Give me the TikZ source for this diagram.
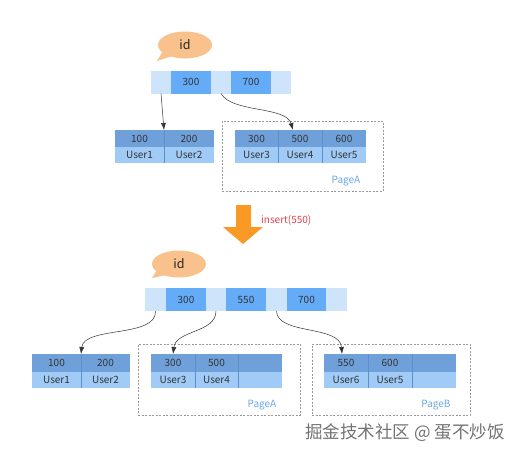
\documentclass[tikz,border=0pt]{standalone}
\usepackage{fontspec}
\setmainfont{Noto Sans CJK SC}
\usetikzlibrary{arrows.meta,calc,shapes.geometric}
\definecolor{hdr}{HTML}{6FA0D9}
\definecolor{low}{HTML}{A0CBF6}
\definecolor{sep}{HTML}{5E8FCB}
\definecolor{barl}{HTML}{CDE4FB}
\definecolor{bard}{HTML}{65ACF8}
\definecolor{peach}{HTML}{F9C18C}
\definecolor{orng}{HTML}{F99A26}
\definecolor{pagec}{HTML}{6AA8E8}
\definecolor{redc}{HTML}{E3434C}
\definecolor{txt}{HTML}{333333}
\begin{document}
\begin{tikzpicture}[x=1pt,y=-1pt,
  cell/.style={inner sep=0pt,outer sep=0pt,text=txt,font=\fontsize{10}{11}\selectfont},
  hcell/.style={cell,fill=hdr},
  lcell/.style={cell,fill=low},
  barlt/.style={inner sep=0pt,outer sep=0pt,fill=barl},
  bardk/.style={inner sep=0pt,outer sep=0pt,fill=bard,text=txt,font=\fontsize{10}{11}\selectfont},
  page/.style={draw=gray!80,dashed,dash pattern=on 2pt off 1.5pt,line width=0.7pt,inner sep=0pt},
  pagelbl/.style={text=pagec,font=\fontsize{10}{11}\selectfont,inner sep=0pt},
  conn/.style={draw=black!80,line width=0.5pt,-{Latex[length=7pt,width=5pt]}},
  bubble/.style={fill=peach,draw=none},
  sepl/.style={draw=sep,line width=0.5pt}
]
\useasboundingbox (0,0) rectangle (512,456);
\fill[white] (0,0) rectangle (512,456);

% ---------- top bubble
\fill[peach] (163,51) -- (172,56) -- (157,61) -- cycle;
\node[bubble,ellipse,minimum width=54pt,minimum height=27pt,inner sep=0pt] (bub1) at (185,45) {};
\node[font=\fontsize{12.5}{14}\selectfont,text=black!85] (id1) at (185,45) {id};

% ---------- top bar
\node[barlt,minimum width=20pt,minimum height=23pt] (tl1) at (161,82) {};
\node[bardk,minimum width=40pt,minimum height=23pt] (td1) at (191,82) {300};
\node[barlt,minimum width=20pt,minimum height=23pt] (tl2) at (221,82) {};
\node[bardk,minimum width=40pt,minimum height=23pt] (td2) at (251,82) {700};
\node[barlt,minimum width=20pt,minimum height=23pt] (tl3) at (281,82) {};

% ---------- top leaf left
\node[hcell,minimum width=49pt,minimum height=17pt] (a1) at (139.5,138.5) {100};
\node[hcell,minimum width=50pt,minimum height=17pt] (a2) at (189,138.5) {200};
\node[lcell,minimum width=49pt,minimum height=16pt] (a3) at (139.5,155) {User1};
\node[lcell,minimum width=50pt,minimum height=16pt] (a4) at (189,155) {User2};
\draw[sepl] (a1.north east) -- (a3.south east);

% ---------- top leaf right (PageA)
\node[page,minimum width=161pt,minimum height=70pt] (pgA1) at (302.5,156) {};
\node[hcell,minimum width=43pt,minimum height=17pt] (b1) at (256.5,138.5) {300};
\node[hcell,minimum width=44pt,minimum height=17pt] (b2) at (300,138.5) {500};
\node[hcell,minimum width=44pt,minimum height=17pt] (b3) at (344,138.5) {600};
\node[lcell,minimum width=43pt,minimum height=16pt] (b4) at (256.5,155) {User3};
\node[lcell,minimum width=44pt,minimum height=16pt] (b5) at (300,155) {User4};
\node[lcell,minimum width=44pt,minimum height=16pt] (b6) at (344,155) {User5};
\draw[sepl] (b1.north east) -- (b4.south east);
\draw[sepl] (b2.north east) -- (b5.south east);
\node[pagelbl] (pA1) at (346,181) {PageA};

% ---------- top connectors
\draw[conn] (tl1.south) -- (a1.north east);
\draw[conn] (tl2.south) .. controls (232,113) and (286,106) .. ($(b2.north)+(-7,0)$);

% ---------- orange arrow and label
\fill[orng] (236,205) -- (251,205) -- (251,227) -- (263,227) -- (243,244) -- (223,227) -- (236,227) -- cycle;
\node[anchor=west,text=redc,font=\fontsize{10}{11}\selectfont,inner sep=0pt] (ins) at (261,220) {insert(550)};

% ---------- bottom bubble
\fill[peach] (157,270) -- (166,275) -- (152,278) -- cycle;
\node[bubble,ellipse,minimum width=54pt,minimum height=27pt,inner sep=0pt] (bub2) at (179,264) {};
\node[font=\fontsize{12.5}{14}\selectfont,text=black!85] (id2) at (179,264) {id};

% ---------- bottom bar
\node[barlt,minimum width=21pt,minimum height=23pt] (bl1) at (155.5,299.5) {};
\node[bardk,minimum width=40pt,minimum height=23pt] (bd1) at (186,299.5) {300};
\node[barlt,minimum width=20pt,minimum height=23pt] (bl2) at (216,299.5) {};
\node[bardk,minimum width=40pt,minimum height=23pt] (bd2) at (246,299.5) {550};
\node[barlt,minimum width=21pt,minimum height=23pt] (bl3) at (276.5,299.5) {};
\node[bardk,minimum width=39pt,minimum height=23pt] (bd3) at (306.5,299.5) {700};
\node[barlt,minimum width=21pt,minimum height=23pt] (bl4) at (336.5,299.5) {};

% ---------- bottom leaf 1
\node[hcell,minimum width=49pt,minimum height=18pt] (c1) at (56.5,363) {100};
\node[hcell,minimum width=49pt,minimum height=18pt] (c2) at (105.5,363) {200};
\node[lcell,minimum width=49pt,minimum height=16pt] (c3) at (56.5,380) {User1};
\node[lcell,minimum width=49pt,minimum height=16pt] (c4) at (105.5,380) {User2};
\draw[sepl] (c1.north east) -- (c3.south east);

% ---------- bottom leaf 2 (PageA)
\node[page,minimum width=162pt,minimum height=71pt] (pgA2) at (219,379.5) {};
\node[hcell,minimum width=44pt,minimum height=18pt] (d1) at (173,363) {300};
\node[hcell,minimum width=43pt,minimum height=18pt] (d2) at (216.5,363) {500};
\node[hcell,minimum width=44pt,minimum height=18pt] (d3) at (260,363) {};
\node[lcell,minimum width=44pt,minimum height=16pt] (d4) at (173,380) {User3};
\node[lcell,minimum width=43pt,minimum height=16pt] (d5) at (216.5,380) {User4};
\node[lcell,minimum width=44pt,minimum height=16pt] (d6) at (260,380) {};
\draw[sepl] (d1.north east) -- (d4.south east);
\draw[sepl] (d2.north east) -- (d5.south east);
\node[pagelbl] (pA2) at (262,405) {PageA};

% ---------- bottom leaf 3 (PageB)
\node[page,minimum width=158pt,minimum height=71pt] (pgB) at (391,379.5) {};
\node[hcell,minimum width=44pt,minimum height=18pt] (e1) at (346,363) {550};
\node[hcell,minimum width=44pt,minimum height=18pt] (e2) at (390,363) {600};
\node[hcell,minimum width=44pt,minimum height=18pt] (e3) at (434,363) {};
\node[lcell,minimum width=44pt,minimum height=16pt] (e4) at (346,380) {User6};
\node[lcell,minimum width=44pt,minimum height=16pt] (e5) at (390,380) {User5};
\node[lcell,minimum width=44pt,minimum height=16pt] (e6) at (434,380) {};
\draw[sepl] (e1.north east) -- (e4.south east);
\draw[sepl] (e2.north east) -- (e5.south east);
\node[pagelbl] (pB) at (436,405) {PageB};

% ---------- bottom connectors
\draw[conn] (bl1.south) .. controls (157,338) and (84,326) .. (c1.north east);
\draw[conn] (bl2.south) .. controls (216,333) and (176,330) .. (d1.north);
\draw[conn] (bl3.south) .. controls (277,335) and (340,325) .. ($(e1.north)+(-4,0)$);

% ---------- watermark
\node[anchor=west,text=black!55,font=\fontsize{17.5}{20}\selectfont,inner sep=0pt] (wm) at (305,433) {掘金技术社区 @ 蛋不炒饭};
\end{tikzpicture}
\end{document}
